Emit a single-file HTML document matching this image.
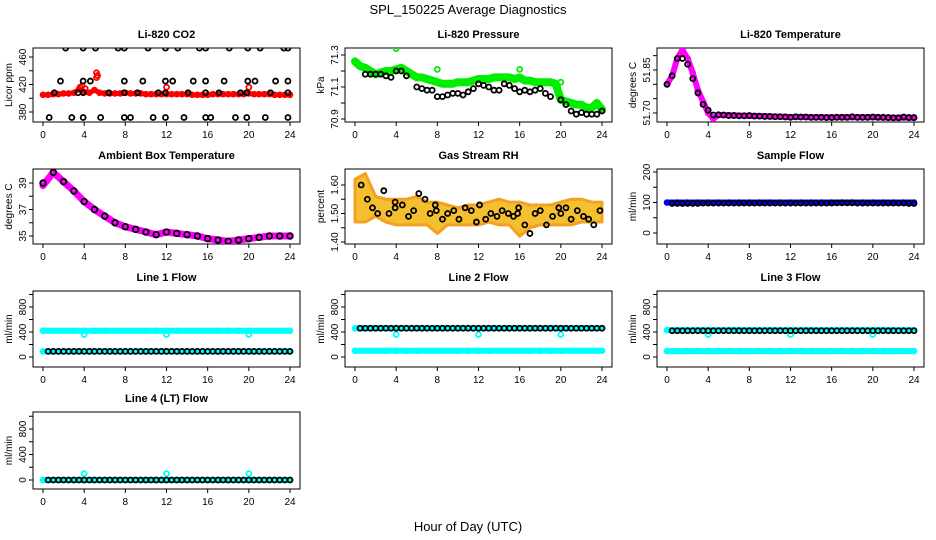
<!DOCTYPE html>
<html><head><meta charset="utf-8"><style>
body{margin:0;background:#fff;}
svg{display:block;font-family:"Liberation Sans",sans-serif;}
</style></head><body>
<svg id="c" width="936" height="540">
<text x="468" y="14" text-anchor="middle" font-size="13">SPL_150225  Average Diagnostics</text>
<text x="468" y="531" text-anchor="middle" font-size="13">Hour of Day (UTC)</text>
</svg>
<script>
// ---- data ----
const hoursHalf = [0,0.5,1,1.5,2,2.5,3,3.5,4,4.5,5,5.5,6,6.5,7,7.5,8,8.5,9,9.5,10,10.5,11,11.5,12,12.5,13,13.5,14,14.5,15,15.5,16,16.5,17,17.5,18,18.5,19,19.5,20,20.5,21,21.5,22,22.5,23,23.5,24];
const hoursFull = [0,1,2,3,4,5,6,7,8,9,10,11,12,13,14,15,16,17,18,19,20,21,22,23,24];
const xTicks = [0,4,8,12,16,20,24];

const co2Red = [405,405,406,406,407,407,408,413,409,408,412,408,407,407,407,407,408,407,407,407,406,406,406,406,406,406,406,406,406,405,405,405,405,406,406,406,406,406,406,406,407,406,406,406,406,405,405,405,405];
const co2RedOutX = [3.6,3.8,4.1,5.2,5.2,5.3,12,20];
const co2RedOutV = [416,418,414,437,430,433,416,416];
const co2BlackX = [2.2,3.9,5.1,7.3,7.9,10.2,11.9,13.1,15.2,15.8,18.1,19.9,21.1,23.4,23.8, 1.7,3.9,4.6,7.9,9.7,11.9,12.6,14.6,15.8,17.6,19.9,20.6,22.6,23.8, 1.1,3.4,3.9,6.4,7.9,9.2,11.2,11.9,14.1,15.8,17.1,19.2,19.8,22.1,23.8, 0.6,2.8,3.9,5.6,7.9,8.5,10.7,11.9,13.7,15.8,16.3,18.7,19.8,21.6,23.8];
const co2BlackV = [473,473,473,473,473,473,473,473,473,473,473,473,473,473,473, 425,425,425,425,425,425,425,425,425,425,425,425,425,425, 408,408,408,408,408,408,408,408,408,408,408,408,408,408,408, 372,372,372,372,372,372,372,372,372,372,372,372,372,372,372];

const presGreen = [71.26,71.23,71.22,71.20,71.18,71.19,71.20,71.20,71.21,71.22,71.20,71.18,71.16,71.16,71.15,71.14,71.13,71.12,71.12,71.12,71.13,71.13,71.13,71.14,71.15,71.15,71.15,71.16,71.16,71.16,71.16,71.15,71.16,71.14,71.14,71.13,71.13,71.13,71.13,71.12,71.02,71.01,71.00,70.99,70.99,70.97,70.97,71.00,70.96];
const presBlackX = [1,1.5,2,2.5,3,3.5,4,4.5,5,6,6.5,7,7.5,8,8.5,9,9.5,10,10.5,11,11.5,12,12.5,13,13.5,14,14.5,15,15.5,16,16.5,17,17.5,18,18.5,19,20,20.5,21,21.5,22,22.5,23,23.5,24];
const presBlackV = [71.18,71.18,71.18,71.18,71.17,71.16,71.20,71.20,71.17,71.10,71.09,71.08,71.08,71.04,71.04,71.05,71.06,71.06,71.05,71.07,71.09,71.12,71.11,71.10,71.08,71.08,71.12,71.11,71.09,71.07,71.08,71.07,71.08,71.09,71.06,71.04,71.02,70.99,70.95,70.93,70.94,70.93,70.93,70.93,70.95];

const tempMag = [51.80,51.83,51.89,51.92,51.89,51.84,51.78,51.74,51.70,51.68,51.693,51.693,51.692,51.692,51.691,51.691,51.690,51.690,51.689,51.689,51.688,51.688,51.687,51.687,51.686,51.686,51.686,51.686,51.685,51.685,51.685,51.685,51.685,51.685,51.685,51.685,51.685,51.685,51.685,51.685,51.685,51.685,51.684,51.684,51.684,51.684,51.684,51.684,51.683];
const tempBlack = [51.80,51.83,51.89,51.89,51.87,51.82,51.77,51.73,51.71,51.693,51.694,51.693,51.691,51.691,51.690,51.690,51.691,51.689,51.689,51.688,51.688,51.687,51.687,51.686,51.685,51.687,51.686,51.686,51.685,51.685,51.685,51.684,51.684,51.685,51.685,51.685,51.687,51.685,51.685,51.685,51.686,51.685,51.685,51.684,51.683,51.683,51.686,51.684,51.684];

const ambMag = [38.8,39.8,39.1,38.4,37.6,37.0,36.5,36.0,35.7,35.5,35.3,35.1,35.3,35.2,35.1,35.0,34.8,34.7,34.6,34.7,34.8,34.9,35.0,35.0,35.0];
const ambBlack = [39.0,39.8,39.1,38.4,37.6,37.0,36.5,36.0,35.7,35.5,35.3,35.1,35.3,35.2,35.1,35.0,34.8,34.7,34.6,34.7,34.8,34.9,35.0,35.0,35.0];

const rhUpper = [1.62,1.64,1.56,1.55,1.55,1.55,1.56,1.54,1.54,1.53,1.52,1.53,1.53,1.54,1.55,1.54,1.54,1.53,1.53,1.53,1.54,1.55,1.55,1.54,1.54];
const rhLower = [1.47,1.47,1.49,1.47,1.46,1.46,1.46,1.46,1.43,1.46,1.46,1.46,1.46,1.47,1.46,1.46,1.42,1.45,1.46,1.46,1.46,1.46,1.47,1.47,1.47];
const rhBlackX = [0.6,1.2,1.7,2.2,2.8,3.3,3.9,3.9,4.6,5.2,5.7,6.2,6.8,7.3,7.8,7.9,8.5,9.0,9.6,10.1,10.7,11.3,11.8,12.1,12.7,13.2,13.8,14.3,14.9,15.4,15.8,15.9,16.5,17.0,17.5,18.0,18.6,19.2,19.8,20.0,20.5,21.0,21.6,22.2,22.7,23.2,23.8];
const rhBlackV = [1.60,1.55,1.52,1.50,1.58,1.50,1.52,1.54,1.53,1.49,1.51,1.57,1.55,1.50,1.53,1.51,1.48,1.50,1.51,1.48,1.52,1.51,1.47,1.53,1.48,1.50,1.49,1.51,1.50,1.49,1.50,1.52,1.46,1.43,1.50,1.51,1.46,1.49,1.52,1.50,1.52,1.48,1.51,1.49,1.48,1.46,1.51];

const sampleBlue = [100,100,100,100,100,100,100,100,100,100,100,100,100,100,100,100,100,100,100,100,100,100,100,100,100];
const sampleBlack = [97,97,97,97,98,98,98,98,98,98,98,98,98,98,98,98,98,99,99,98,98,98,98,98,97];

const line1CyanHi = [420,420,420,420,420,420,420,420,420,420,420,420,420,420,420,420,420,420,420,420,420,420,420,420,420];
const line1CyanLo = [90,90,90,90,90,90,90,90,90,90,90,90,90,90,90,90,90,90,90,90,90,90,90,90,90];
const line1Black = [90,90,90,90,90,90,90,90,90,90,90,90,90,90,90,90,90,90,90,90,90,90,90,90,90];
const line2CyanHi = [460,460,460,460,460,460,460,460,460,460,460,460,460,460,460,460,460,460,460,460,460,460,460,460,460];
const line2CyanLo = [100,100,100,100,100,100,100,100,100,100,100,100,100,100,100,100,100,100,100,100,100,100,100,100,100];
const line2Black = [460,460,460,460,460,460,460,460,460,460,460,460,460,460,460,460,460,460,460,460,460,460,460,460,460];
const line3CyanHi = [430,430,430,430,430,430,430,430,430,430,430,430,430,430,430,430,430,430,430,430,430,430,430,430,430];
const line3CyanLo = [95,95,95,95,95,95,95,95,95,95,95,95,95,95,95,95,95,95,95,95,95,95,95,95,95];
const line3Black = [420,420,420,420,420,420,420,420,420,420,420,420,420,420,420,420,420,420,420,420,420,420,420,420,420];
const line4Cyan = [0,0,0,0,0,0,0,0,0,0,0,0,0,0,0,0,0,0,0,0,0,0,0,0,0];
const line4Black = [0,0,0,0,0,0,0,0,0,0,0,0,0,0,0,0,0,0,0,0,0,0,0,0,0];
const flowDipX = [4,12,20];
const flowDipV = [360,360,360];
const line4SpikeV = [100,100,100];

// ---- drawing ----
const svg = document.getElementById('c');
const NS = 'http://www.w3.org/2000/svg';
function mk(tag, attrs, parent){const e=document.createElementNS(NS,tag);for(const k in attrs)e.setAttribute(k,attrs[k]);(parent||svg).appendChild(e);return e;}
const colLeft=[33,345,657], rowTop=[48,169,291,412], rowBot=[122,244,367,489];

function panel(name, col, row, title, ylab, cal, yTicks, yLabels, dec){
  const L=colLeft[col], R=L+267, T=rowTop[row], B=rowBot[row];
  const g=mk('g',{});
  
  
  const xm=h=>L+10+h*247/24;
  const ym=v=>cal[1]+(v-cal[0])*(cal[3]-cal[1])/(cal[2]-cal[0]);
  const t=mk('text',{x:(L+R)/2,y:T-10,'text-anchor':'middle','font-size':11,'font-weight':'bold'},g);t.textContent=title;
  
  
  const yl=mk('text',{x:0,y:0,'text-anchor':'middle','font-size':10,transform:`translate(${L-21},${(T+B)/2}) rotate(-90)`},g);yl.textContent=ylab;
  
  
  mk('rect',{x:L,y:T,width:267,height:B-T,fill:'none',stroke:'#000','stroke-width':1},g);
  xTicks.forEach(h=>{mk('line',{x1:xm(h),x2:xm(h),y1:B,y2:B+4,stroke:'#000'},g);
    const tx=mk('text',{x:xm(h),y:B+16,'text-anchor':'middle','font-size':10},g);tx.textContent=h;
    
    });
  yTicks.forEach(v=>{const y=ym(v);mk('line',{x1:L,x2:L-4,y1:y,y2:y,stroke:'#000'},g);});
  yLabels.forEach(v=>{const y=ym(v);const tx=mk('text',{x:0,y:0,'text-anchor':'middle','font-size':10,transform:`translate(${L-7},${y}) rotate(-90)`},g);tx.textContent=v.toFixed(dec||0);
    
    });
  const clip='clip'+name;
  const cp=mk('clipPath',{id:clip},g);mk('rect',{x:L,y:T,width:267,height:B-T},cp);
  const pg=mk('g',{'clip-path':`url(#${clip})`},g);
  return {xm,ym,g:pg};
}
function band(p,xs,vs,color,w,name){
  const pl=mk('polyline',{points:xs.map((h,i)=>p.xm(h)+','+p.ym(vs[i])).join(' '),fill:'none',stroke:color,'stroke-width':w,'stroke-linejoin':'round','stroke-linecap':'round'},p.g);
  
  
  xs.forEach((h,i)=>{const c=mk('circle',{cx:p.xm(h),cy:p.ym(vs[i]),r:2.5,fill:'none',stroke:color,'stroke-width':1.6},p.g);
    
    });
}
function pts(p,xs,vs,color,name,r){
  xs.forEach((h,i)=>{const c=mk('circle',{cx:p.xm(h),cy:p.ym(vs[i]),r:r||2.5,fill:'none',stroke:color,'stroke-width':1.8},p.g);
    
    });
}

// CO2
let p=panel('co2',0,0,'Li-820 CO2','Licor ppm',[380,112,460,57],[380,400,420,440,460],[380,420,460],0);
band(p,hoursHalf,co2Red,'#ff0000',5,'co2-red-series');
pts(p,co2RedOutX,co2RedOutV,'#ff0000','co2-red-outlier');
pts(p,co2BlackX,co2BlackV,'#000','co2-hourly-point');
// Pressure
p=panel('pressure',1,0,'Li-820 Pressure','kPa',[70.9,119,71.3,55],[70.9,71.0,71.1,71.2,71.3],[70.9,71.1,71.3],1);
band(p,hoursHalf,presGreen,'#00ee00',8,'pressure-green-series');
pts(p,[4,8,16,20],[71.34,71.21,71.21,71.13],'#00ee00','pressure-green-outlier');
pts(p,presBlackX,presBlackV,'#000','pressure-hourly-point');
// Temperature
p=panel('temp',2,0,'Li-820 Temperature','degrees C',[51.70,113,51.85,70],[51.70,51.75,51.80,51.85,51.90],[51.70,51.85],2);
band(p,hoursHalf,tempMag,'#ff00ff',6,'temp-magenta-series');
pts(p,hoursHalf,tempBlack,'#000','temp-hourly-point');
// Ambient
p=panel('ambient',0,1,'Ambient Box Temperature','degrees C',[35,236,39,183],[35,36,37,38,39],[35,37,39],0);
band(p,hoursFull,ambMag,'#ff00ff',7,'ambient-magenta-series');
pts(p,hoursFull,ambBlack,'#000','ambient-hourly-point',2.8);
// RH
p=panel('rh',1,1,'Gas Stream RH','percent',[1.40,242,1.60,185],[1.40,1.45,1.50,1.55,1.60],[1.40,1.50,1.60],2);
const poly=mk('polygon',{points:hoursFull.map((h,i)=>p.xm(h)+','+p.ym(rhUpper[i])).concat(hoursFull.slice().reverse().map((h,j)=>p.xm(h)+','+p.ym(rhLower[hoursFull.length-1-j]))).join(' '),fill:'#f5c030',stroke:'#f4a020','stroke-width':3,'stroke-linejoin':'round'},p.g);


pts(p,rhBlackX,rhBlackV,'#000','rh-hourly-point');
// Sample flow
p=panel('sample',2,1,'Sample Flow','ml/min',[0,233,200,172],[0,50,100,150,200],[0,100,200],0);
band(p,hoursFull,sampleBlue,'#0000ff',6,'sample-blue-series');
pts(p,hoursFull.slice(1),sampleBlack.slice(1),'#000','sample-hourly-point');
pts(p,hoursFull.slice(1).map(h=>h-0.5),sampleBlack.slice(1),'#000','sample-hourly-point');
// Line flows
const flowTicks=[0,200,400,600,800,1000], flowLabels=[0,400,800];
function flow(name,col,row,title,hi,lo,blk){
  const cal=row==2?[0,357,800,307]:[0,480,800,429];
  const q=panel(name,col,row,title,'ml/min',cal,flowTicks,flowLabels,0);
  band(q,hoursFull,hi,'#00ffff',6,name+'-cyan-high');
  if(lo) band(q,hoursFull,lo,'#00ffff',6,name+'-cyan-low');
  pts(q,flowDipX,row==2?flowDipV:line4SpikeV,'#00ffff',name+'-cyan-outlier');
  pts(q,hoursFull.slice(1),blk.slice(1),'#000',name+'-hourly-point');
  pts(q,hoursFull.slice(1).map(h=>h-0.5),blk.slice(1),'#000',name+'-hourly-point');
}
flow('line1',0,2,'Line 1 Flow',line1CyanHi,line1CyanLo,line1Black);
flow('line2',1,2,'Line 2 Flow',line2CyanHi,line2CyanLo,line2Black);
flow('line3',2,2,'Line 3 Flow',line3CyanHi,line3CyanLo,line3Black);
flow('line4',0,3,'Line 4 (LT) Flow',line4Cyan,null,line4Black);
</script>
</body></html>
